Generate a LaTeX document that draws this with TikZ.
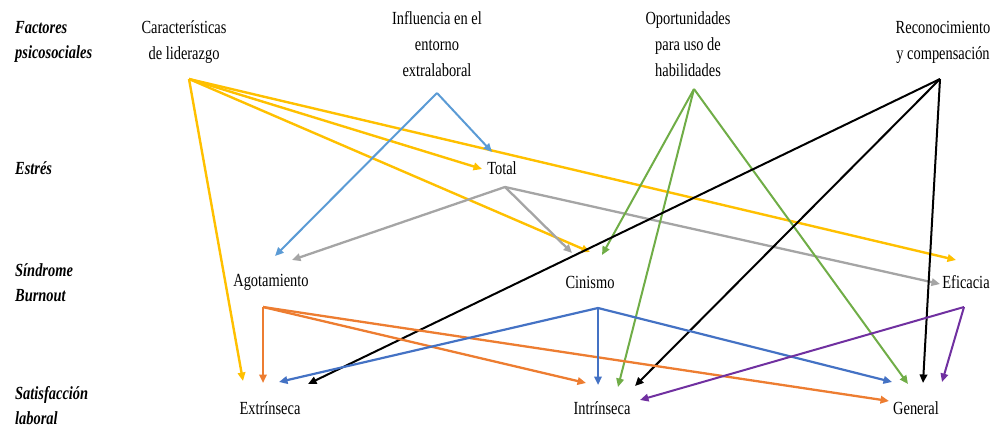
\documentclass[tikz,border=0pt]{standalone}
\usepackage{fontspec}
\setmainfont{Liberation Serif}[FakeStretch=0.78]
\usetikzlibrary{arrows.meta}
\definecolor{cYel}{HTML}{FFC000}
\definecolor{cLBlue}{HTML}{5B9BD5}
\definecolor{cGray}{HTML}{A5A5A5}
\definecolor{cGreen}{HTML}{70AD47}
\definecolor{cOrange}{HTML}{ED7D31}
\definecolor{cBlue}{HTML}{4472C4}
\definecolor{cPurple}{HTML}{7030A0}
\tikzset{
  lbl/.style={font=\fontsize{18.5}{26}\selectfont, align=center, inner sep=0pt},
  cat/.style={font=\fontsize{18.5}{25}\selectfont\bfseries\itshape, align=left, inner sep=0pt, anchor=west},
  conn/.style={line width=2pt, -{Triangle[length=8.5pt,width=7.5pt]}},
  cyel/.style={conn, color=cYel, line width=2.4pt},
  clblue/.style={conn, color=cLBlue},
  cgray/.style={conn, color=cGray, line width=2.3pt},
  cgreen/.style={conn, color=cGreen},
  cblack/.style={conn, color=black},
  corange/.style={conn, color=cOrange, line width=2.3pt},
  cblue/.style={conn, color=cBlue, line width=2.2pt},
  cpurple/.style={conn, color=cPurple},
}
\begin{document}
\begin{tikzpicture}[x=1pt,y=-1pt]
\useasboundingbox (0,0) rectangle (995,430);
% category labels
\node[cat] (fac) at (15,42) {Factores\\psicosociales};
\node[cat] (est) at (15,168) {Estrés};
\node[cat] (sin) at (15,283) {Síndrome\\Burnout};
\node[cat] (sat) at (15,406) {Satisfacción\\laboral};
% nodes
\node[lbl] (lid) at (184,42) {Características\\de liderazgo};
\node[lbl] (inf) at (437,44) {Influencia en el\\entorno\\extralaboral};
\node[lbl] (opo) at (688,44) {Oportunidades\\para uso de\\habilidades};
\node[lbl] (rec) at (943,42) {Reconocimiento\\y compensación};
\node[lbl] (tot) at (502,168) {Total};
\node[lbl] (ago) at (271,282) {Agotamiento};
\node[lbl] (cin) at (590,282) {Cinismo};
\node[lbl] (efi) at (966,282) {Eficacia};
\node[lbl] (ext) at (270,408) {Extrínseca};
\node[lbl] (int) at (602,408) {Intrínseca};
\node[lbl] (gen) at (916,408) {General};
% ports
\coordinate (lidS) at (189,79);
\coordinate (infS) at (437,93);
\coordinate (opoS) at (694,89);
\coordinate (recS) at (940,79);
\coordinate (totS) at (505,187);
\coordinate (agoS) at (263,307);
\coordinate (cinS) at (598,308);
\coordinate (efiS) at (964,307);
\coordinate (totY) at (482,169);
\coordinate (totB) at (492,152);
\coordinate (agoB) at (275,256);
\coordinate (agoG) at (292,260);
\coordinate (cinG) at (572,253);
\coordinate (cinY) at (590,252);
\coordinate (cinV) at (602,255);
\coordinate (efiY) at (956,260);
\coordinate (efiG) at (940,284);
\coordinate (extY) at (243,381);
\coordinate (extO) at (263,383);
\coordinate (extB) at (279,382);
\coordinate (extK) at (308,384);
\coordinate (intO) at (586,383);
\coordinate (intB) at (598,385);
\coordinate (intV) at (618,387);
\coordinate (intK) at (635,386);
\coordinate (intP) at (640,400);
\coordinate (genO) at (889,401);
\coordinate (genB) at (892,382);
\coordinate (genV) at (908,384);
\coordinate (genK) at (923,383);
\coordinate (genP) at (942,382);
% yellow
\draw[cyel] (lidS) -- (totY);
\draw[cyel] (lidS) -- (cinY);
\draw[cyel] (lidS) -- (efiY);
\draw[cyel] (lidS) -- (extY);
% light blue
\draw[clblue] (infS) -- (totB);
\draw[clblue] (infS) -- (agoB);
% gray
\draw[cgray] (totS) -- (agoG);
\draw[cgray] (totS) -- (cinG);
\draw[cgray] (totS) -- (efiG);
% green
\draw[cgreen] (opoS) -- (cinV);
\draw[cgreen] (opoS) -- (intV);
\draw[cgreen] (opoS) -- (genV);
% black
\draw[cblack] (recS) -- (extK);
\draw[cblack] (recS) -- (intK);
\draw[cblack] (recS) -- (genK);
% orange
\draw[corange] (agoS) -- (extO);
\draw[corange] (agoS) -- (intO);
\draw[corange] (agoS) -- (genO);
% blue
\draw[cblue] (cinS) -- (extB);
\draw[cblue] (cinS) -- (intB);
\draw[cblue] (cinS) -- (genB);
% purple
\draw[cpurple] (efiS) -- (intP);
\draw[cpurple] (efiS) -- (genP);
\end{tikzpicture}
\end{document}
